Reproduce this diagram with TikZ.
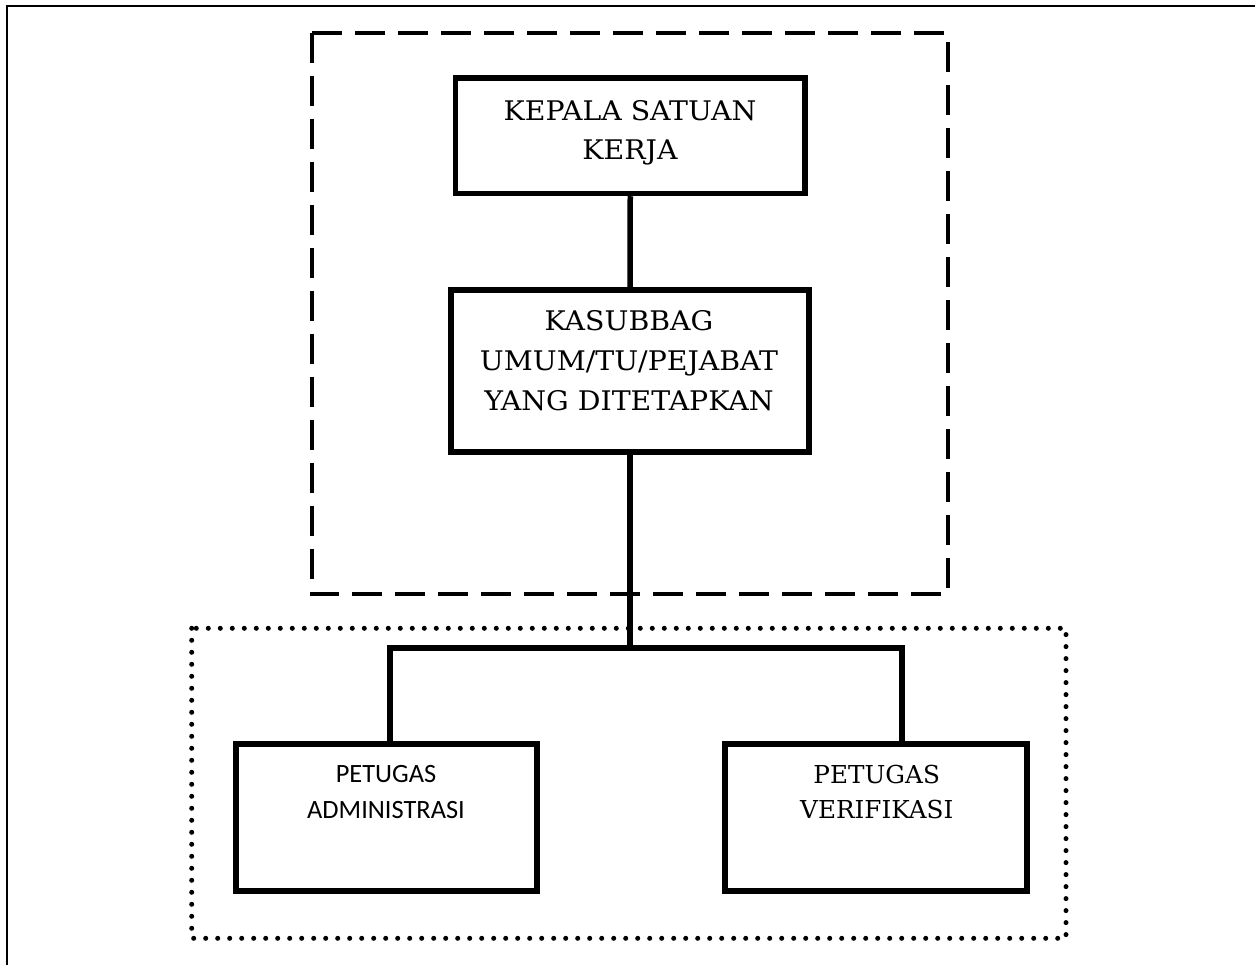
\documentclass[tikz,border=0pt]{standalone}
\usepackage{fontspec}
\newfontfamily\serifA[FakeStretch=1.05]{DejaVu Serif}
\newfontfamily\serifB{DejaVu Serif}
\newfontfamily\sansA{Carlito}
\begin{document}
\begin{tikzpicture}[x=1pt,y=-1pt,
  orgbox/.style={draw=black,line width=5.5pt,inner sep=0pt,fill=white},
  conn/.style={draw=black,line width=5.5pt},
  txt/.style={anchor=north,align=center,inner sep=0pt},
  dashbox/.style={draw=black,line width=4pt,dash pattern=on 30pt off 13pt},
  dotbox/.style={draw=black,line width=5pt,line cap=round,dash pattern=on 0pt off 12pt},
  frame/.style={draw=black,line width=2pt}]
\useasboundingbox (0,0) rectangle (1255,965);
% outer frame (only top and left visible)
\draw[frame] (7,965) -- (7,6) -- (1255,6);
% grouping boxes
\draw[dashbox] (311.7,32.7) rectangle (947.7,594.3);
\draw[dotbox] (191.7,628.3) rectangle (1066,938.3);
% boxes
\node[orgbox,minimum width=349.5pt,minimum height=115.5pt] (b1) at (630.25,135.75) {};
\node[orgbox,minimum width=358pt,minimum height=162pt] (b2) at (630,371) {};
\node[orgbox,minimum width=301pt,minimum height=147pt] (b3) at (386.5,817.5) {};
\node[orgbox,minimum width=302pt,minimum height=147pt] (b4) at (876,817.5) {};
% texts
\node[txt,font={\serifA\fontsize{27}{39}\selectfont}] (t1) at (630,100) {KEPALA SATUAN\\KERJA};
\node[txt,font={\serifA\fontsize{27}{40}\selectfont}] (t2) at (629,310) {KASUBBAG\\UMUM/TU/PEJABAT\\YANG DITETAPKAN};
\node[txt,font={\sansA\fontsize{26.4}{36}\selectfont}] (t3) at (386,765) {PETUGAS\\ADMINISTRASI};
\node[txt,font={\serifB\fontsize{24.7}{35}\selectfont}] (t4) at (876.7,765) {PETUGAS\\VERIFIKASI};
% connectors
\coordinate (jc) at (630,648);
\coordinate (jl) at (390,648);
\coordinate (jr) at (902,648);
\draw[conn] (b1.south) -- (b2.north);
\draw[conn] (b2.south) -- (jc);
\draw[conn] (b3.north -| jl) -- (jl) -- (jr) -- (b4.north -| jr);
\end{tikzpicture}
\end{document}
